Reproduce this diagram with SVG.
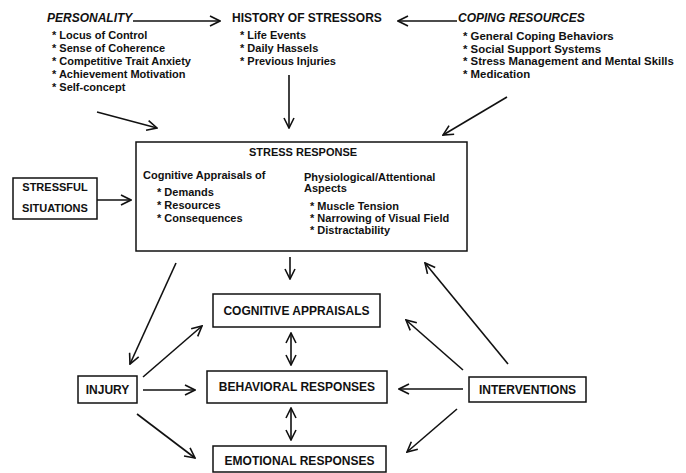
<svg xmlns="http://www.w3.org/2000/svg" width="686" height="473" viewBox="0 0 686 473">
<defs>
<style>
text{font-family:"Liberation Sans",Arial,sans-serif;fill:#111;}
.h{font-size:12px;font-weight:bold;}
.hi{font-size:12px;font-weight:bold;font-style:italic;}
.b{font-size:11px;font-weight:bold;}
.lbl{font-size:12px;font-weight:bold;}
.box{fill:#fff;stroke:#111;stroke-width:1.5;}
.ln{fill:none;stroke:#111;stroke-width:1.6;}
</style>
<marker id="ah" viewBox="0 0 12 12" refX="11" refY="6" markerWidth="12" markerHeight="12" markerUnits="userSpaceOnUse" orient="auto-start-reverse">
<path d="M1,1 L11,6 L1,11" fill="none" stroke="#111" stroke-width="1.6"/>
</marker>
</defs>
<rect width="686" height="473" fill="#fff"/>

<g id="personality">
<text class="hi" x="47" y="22">PERSONALITY</text>
<text class="b" x="52" y="39">* Locus of Control</text>
<text class="b" x="52" y="52">* Sense of Coherence</text>
<text class="b" x="52" y="65">* Competitive Trait Anxiety</text>
<text class="b" x="52" y="78">* Achievement Motivation</text>
<text class="b" x="52" y="91">* Self-concept</text>
</g>
<g id="history">
<text class="h" x="232" y="22">HISTORY OF STRESSORS</text>
<text class="b" x="240" y="39">* Life Events</text>
<text class="b" x="240" y="52">* Daily Hassels</text>
<text class="b" x="240" y="65">* Previous Injuries</text>
</g>
<g id="coping">
<text class="hi" x="458" y="22">COPING RESOURCES</text>
<text class="b" x="463" y="40" style="font-size:11.4px">*  General Coping Behaviors</text>
<text class="b" x="463" y="53" style="font-size:11.4px">* Social Support Systems</text>
<text class="b" x="463" y="65" style="font-size:11.4px">* Stress Management and Mental Skills</text>
<text class="b" x="463" y="78" style="font-size:11.4px">* Medication</text>
</g>
<g id="stress-response">
<rect class="box" x="136" y="142" width="331" height="109"/>
<text class="b" x="303" y="156" text-anchor="middle">STRESS RESPONSE</text>
<text class="b" x="143" y="179">Cognitive Appraisals of</text>
<text class="b" x="157" y="196">* Demands</text>
<text class="b" x="157" y="209">* Resources</text>
<text class="b" x="157" y="222">* Consequences</text>
<text class="b" x="304" y="181">Physiological/Attentional</text>
<text class="b" x="304" y="192">Aspects</text>
<text class="b" x="310" y="210">* Muscle Tension</text>
<text class="b" x="310" y="222">* Narrowing of Visual Field</text>
<text class="b" x="310" y="234">* Distractability</text>
</g>
<g id="stressful-situations">
<rect class="box" x="13" y="178" width="84" height="41"/>
<text class="lbl" x="55" y="191" text-anchor="middle" style="font-size:11px">STRESSFUL</text>
<text class="lbl" x="55" y="212" text-anchor="middle" style="font-size:11px">SITUATIONS</text>
</g>
<g id="cognitive-appraisals">
<rect class="box" x="213" y="294" width="167" height="33"/>
<text class="lbl" x="296.5" y="315" text-anchor="middle">COGNITIVE APPRAISALS</text>
</g>
<g id="behavioral-responses">
<rect class="box" x="207" y="371" width="180" height="32"/>
<text class="lbl" x="297" y="391" text-anchor="middle">BEHAVIORAL RESPONSES</text>
</g>
<g id="emotional-responses">
<rect class="box" x="213" y="446" width="173" height="26"/>
<text class="lbl" x="299.5" y="465" text-anchor="middle">EMOTIONAL RESPONSES</text>
</g>
<g id="injury">
<rect class="box" x="78" y="376" width="59" height="27"/>
<text class="lbl" x="107.5" y="394" text-anchor="middle">INJURY</text>
</g>
<g id="interventions">
<rect class="box" x="469" y="377" width="117" height="25"/>
<text class="lbl" x="527.5" y="394" text-anchor="middle">INTERVENTIONS</text>
</g>

<g id="connectors">
<line class="ln" x1="133" y1="21" x2="220" y2="21" marker-end="url(#ah)"/>
<line class="ln" x1="457" y1="21" x2="398" y2="21" marker-end="url(#ah)"/>
<line class="ln" x1="97" y1="112" x2="157" y2="128" marker-end="url(#ah)"/>
<line class="ln" x1="289" y1="75" x2="289" y2="128" marker-end="url(#ah)"/>
<line class="ln" x1="507" y1="97" x2="443" y2="135" marker-end="url(#ah)"/>
<line class="ln" x1="97" y1="200" x2="131" y2="200" marker-end="url(#ah)"/>
<line class="ln" x1="290" y1="257" x2="290" y2="279" marker-end="url(#ah)"/>
<line class="ln" x1="291" y1="333" x2="291" y2="365" marker-start="url(#ah)" marker-end="url(#ah)"/>
<line class="ln" x1="291" y1="408" x2="291" y2="440" marker-start="url(#ah)" marker-end="url(#ah)"/>
<line class="ln" x1="176" y1="263" x2="130" y2="364" marker-end="url(#ah)"/>
<line class="ln" x1="143" y1="377" x2="202" y2="326" marker-end="url(#ah)"/>
<line class="ln" x1="143" y1="390" x2="195" y2="390" marker-end="url(#ah)"/>
<line class="ln" x1="137" y1="414" x2="195" y2="458" marker-end="url(#ah)"/>
<line class="ln" x1="508" y1="364" x2="425" y2="263" marker-end="url(#ah)"/>
<line class="ln" x1="463" y1="370" x2="406" y2="320" marker-end="url(#ah)"/>
<line class="ln" x1="463" y1="389" x2="399" y2="389" marker-end="url(#ah)"/>
<line class="ln" x1="457" y1="409" x2="407" y2="452" marker-end="url(#ah)"/>
</g>
</svg>
